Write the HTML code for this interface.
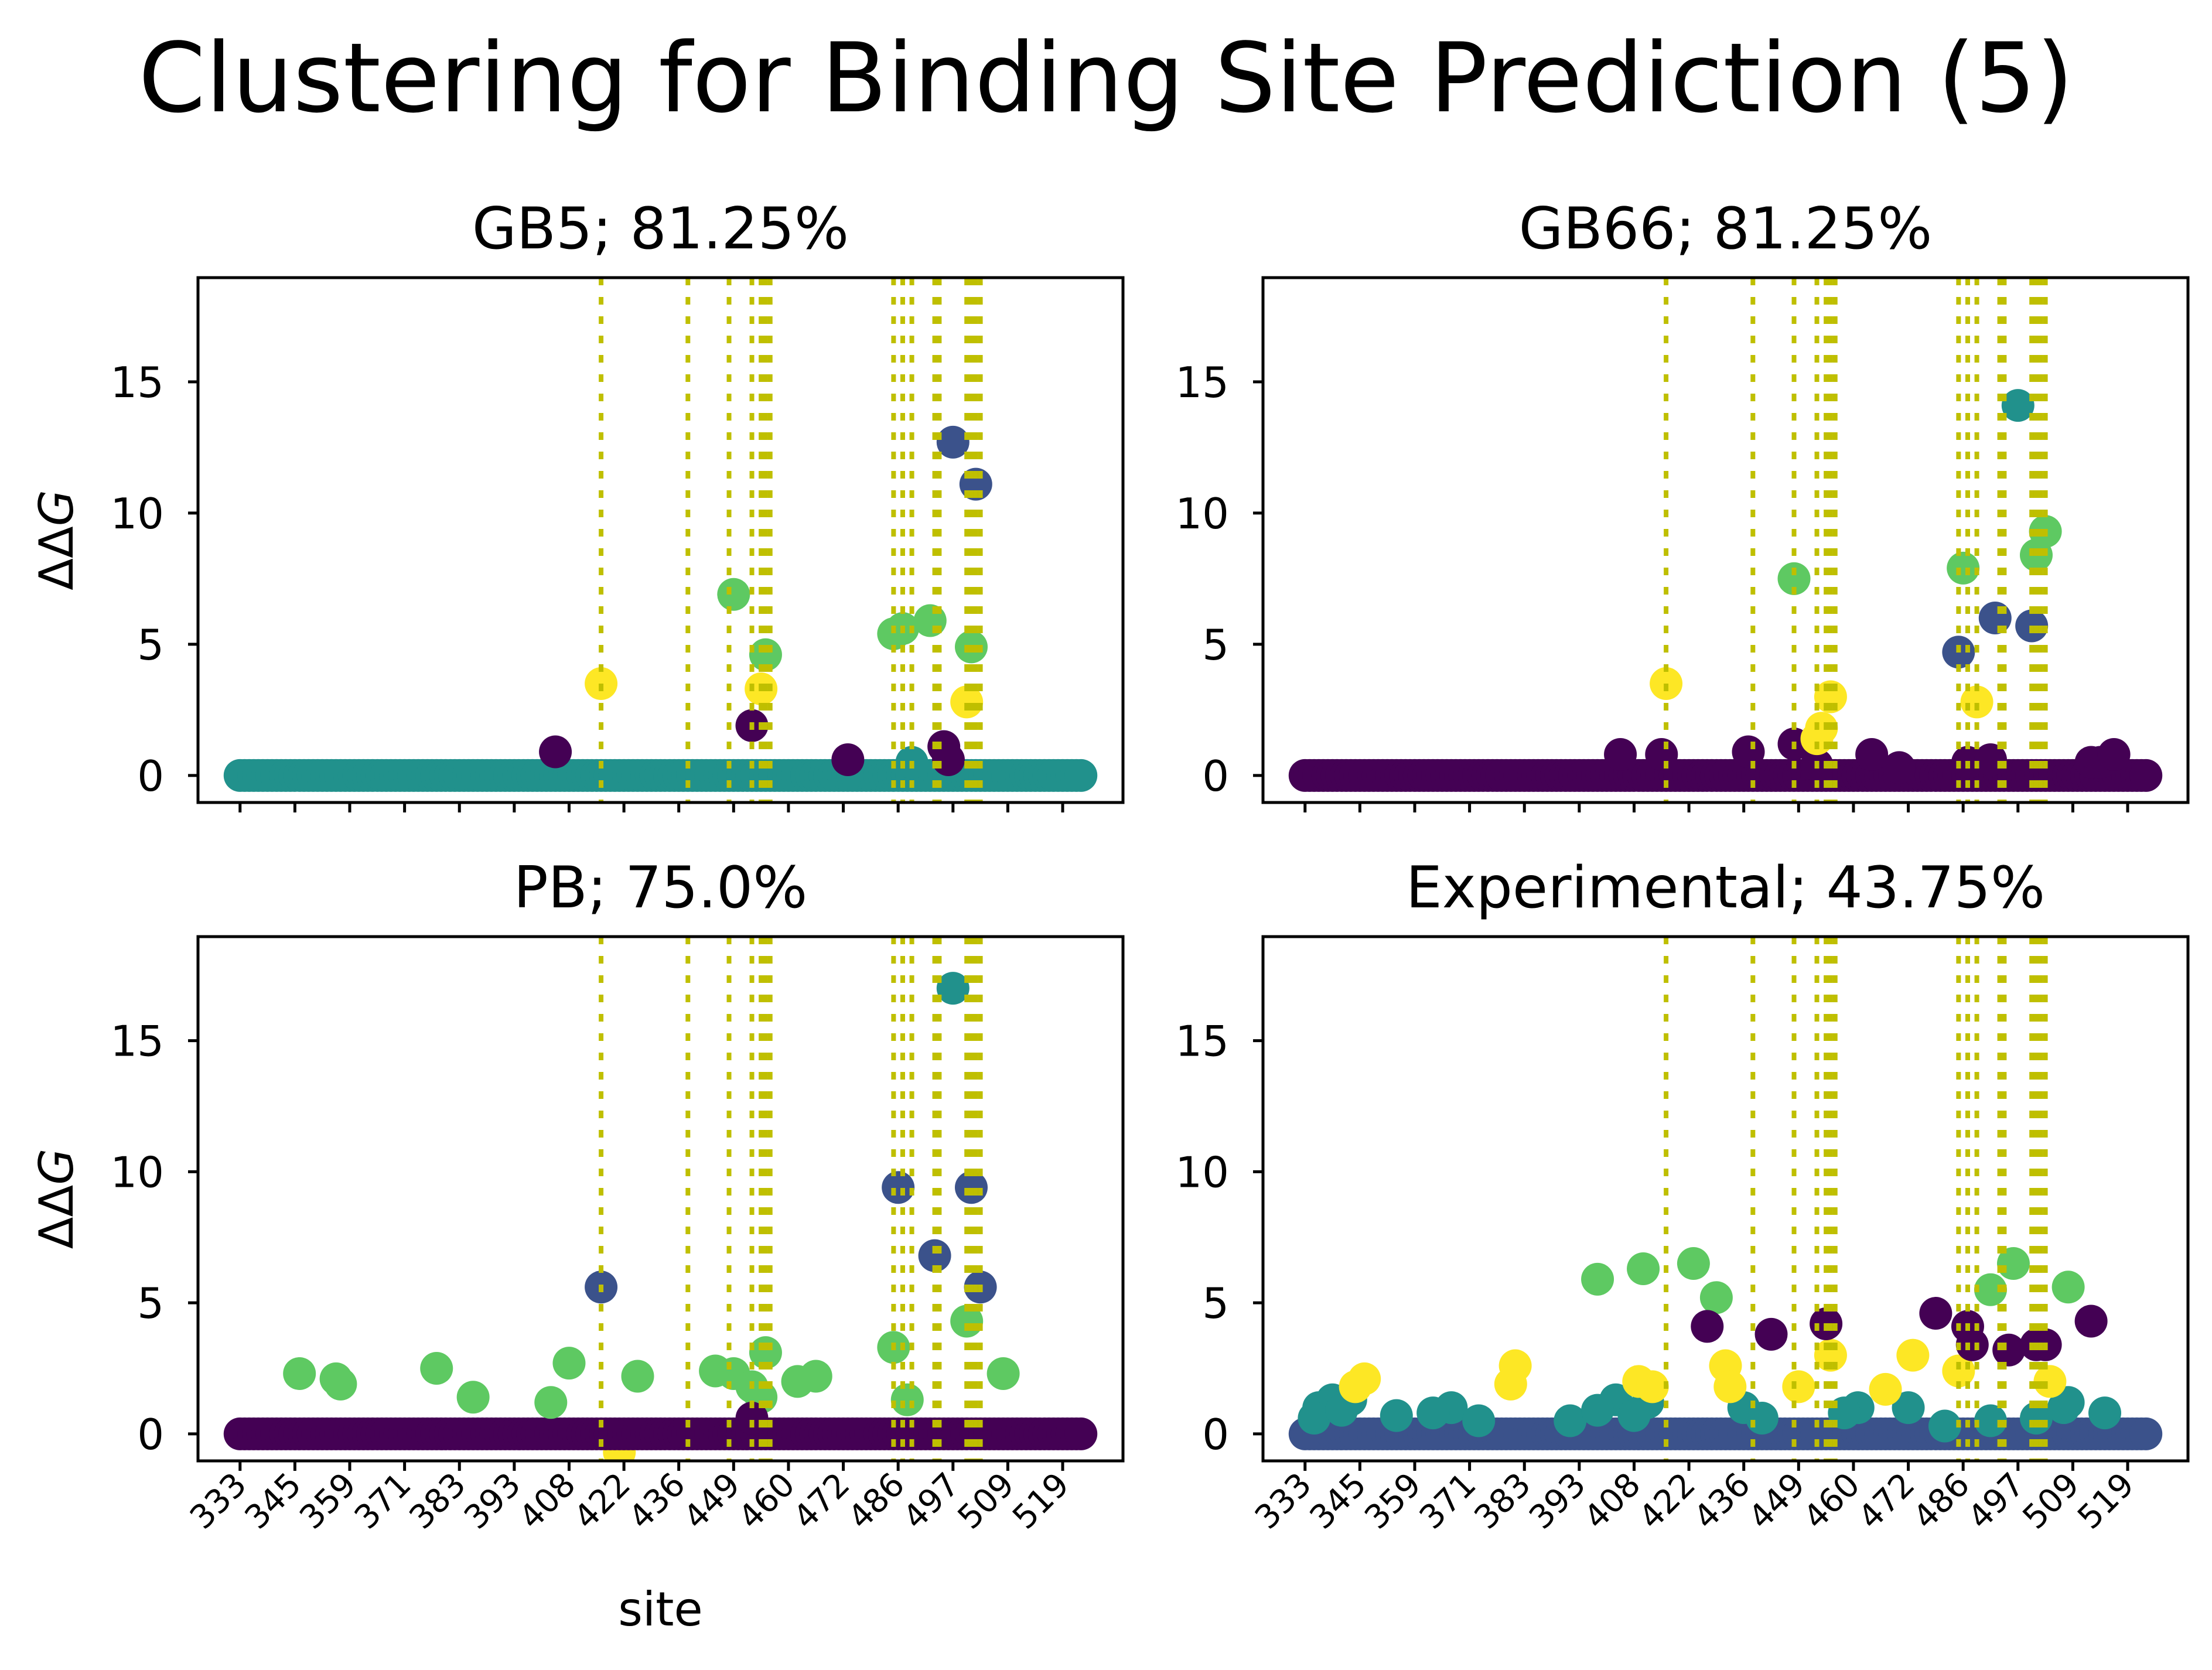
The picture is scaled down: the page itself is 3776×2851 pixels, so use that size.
<!DOCTYPE html>
<html><head><meta charset="utf-8"><style>
html,body{margin:0;padding:0;background:#fff;}
svg{display:block;font-family:"DejaVu Sans","Liberation Sans",sans-serif;}
</style></head><body>
<svg id="fig" width="3776" height="2851" viewBox="0 0 3776 2851" xmlns="http://www.w3.org/2000/svg">
<rect width="3776" height="2851" fill="#fff"/>
<text x="1888" y="190" font-size="164" text-anchor="middle">Clustering for Binding Site Prediction (5)</text>
</svg>
<script>
const N_SITES = 185;
const tickIdx = [0,12,24,36,48,60,72,84,96,108,120,132,144,156,168,180];
const tickLabels = ["333","345","359","371","383","393","408","422","436","449","460","472","486","497","509","519"];
const yTicks = [0,5,10,15];
const bindingSites = [79,98,107,112,114,115,116,143,145,147,152,153,159,160,161,162];
const clusterColors = ["#440154","#3b528b","#21918c","#5ec962","#fde725"];

const gb5Idx = [69,79,108,112,114,115,133,143,145,151,154,155,159,160,156,161,147];
const gb5Val = [0.9,3.5,6.9,1.9,3.3,4.6,0.6,5.4,5.6,5.9,1.1,0.6,2.8,4.9,12.7,11.1,0.5];
const gb5Cls = [0,4,3,0,4,3,0,3,3,3,0,0,4,3,1,1,2];

const gb66Idx = [69,78,97,107,112,124,130,145,150,172,174,177,79,107,112,113,115,143,144,147,151,156,159,160,162];
const gb66Val = [0.8,0.8,0.9,1.2,0.4,0.8,0.3,0.5,0.6,0.5,0.5,0.8,3.5,7.5,1.4,1.8,3.0,4.7,7.9,2.8,6.0,14.1,5.7,8.4,9.3];
const gb66Cls = [0,0,0,0,0,0,0,0,0,0,0,0,4,3,4,4,4,1,3,4,1,2,1,3,3];

const pbIdx = [13,21,22,43,51,68,72,79,87,104,108,112,114,115,122,126,143,144,146,152,156,159,160,162,167,83,112];
const pbVal = [2.3,2.1,1.9,2.5,1.4,1.2,2.7,5.6,2.2,2.4,2.3,1.8,1.4,3.1,2.0,2.2,3.3,9.4,1.3,6.8,17.0,4.3,9.4,5.6,2.3,-0.7,0.6];
const pbCls = [3,3,3,3,3,3,3,1,3,3,3,3,3,3,3,3,3,1,3,1,2,3,1,1,3,4,0];

const expIdx = [3,6,10,32,68,75,96,121,132,167,175,2,8,20,28,38,58,64,72,100,118,140,150,160,166,11,13,45,46,73,76,92,93,108,115,127,133,143,163,64,74,85,90,150,155,167,88,102,114,138,145,146,154,160,162,172];
const expVal = [1.0,1.3,1.3,1.0,1.3,1.2,1.0,1.0,1.0,1.2,0.8,0.6,0.9,0.7,0.8,0.5,0.5,0.9,0.7,0.6,0.8,0.3,0.5,0.6,1.0,1.8,2.1,1.9,2.6,2.0,1.8,2.6,1.8,1.8,3.0,1.7,3.0,2.4,2.0,5.9,6.3,6.5,5.2,5.5,6.5,5.6,4.1,3.8,4.2,4.6,4.1,3.4,3.2,3.4,3.4,4.3];
const expCls = [2,2,2,2,2,2,2,2,2,2,2,2,2,2,2,2,2,2,2,2,2,2,2,2,2,4,4,4,4,4,4,4,4,4,4,4,4,4,4,3,3,3,3,3,3,3,0,0,0,0,0,0,0,0,0,0];

const panels = [
 {name:"gb5", title:"GB5; 81.25%", x0:338, x1:1917, y0:474, y1:1370, base:2, idx:gb5Idx, val:gb5Val, cls:gb5Cls, ylab:true, xlab:false},
 {name:"gb66", title:"GB66; 81.25%", x0:2156, x1:3735, y0:474, y1:1370, base:0, idx:gb66Idx, val:gb66Val, cls:gb66Cls, ylab:false, xlab:false},
 {name:"pb", title:"PB; 75.0%", x0:338, x1:1917, y0:1599, y1:2494, base:0, idx:pbIdx, val:pbVal, cls:pbCls, ylab:true, xlab:true},
 {name:"experimental", title:"Experimental; 43.75%", x0:2156, x1:3735, y0:1599, y1:2494, base:1, idx:expIdx, val:expVal, cls:expCls, ylab:false, xlab:true}
];
const NS = "http://www.w3.org/2000/svg";
const fig = document.getElementById("fig");
function mk(tag, attrs, parent){ const e=document.createElementNS(NS,tag); for(const k in attrs) e.setAttribute(k,attrs[k]); (parent||fig).appendChild(e); return e; }
const YMIN=-1.03, YMAX=18.97, XMIN=-9.2, XMAX=N_SITES-1+9.2;
const R = 28;
panels.forEach(p=>{
  const sx = i => p.x0 + (i-XMIN)/(XMAX-XMIN)*(p.x1-p.x0);
  const sy = v => p.y1 - (v-YMIN)/(YMAX-YMIN)*(p.y1-p.y0);
  const g = mk("g",{});
  
  
  const cp = mk("clipPath",{id:"cp-"+p.name},g);
  mk("rect",{x:p.x0,y:p.y0,width:p.x1-p.x0,height:p.y1-p.y0},cp);
  const plot = mk("g",{"clip-path":"url(#cp-"+p.name+")"},g);
  p.idx.forEach((ix,k)=>{
    if(p.val[k]>=0) return;
    const c = mk("circle",{cx:sx(ix),cy:sy(p.val[k]),r:R,fill:clusterColors[p.cls[k]]},plot);
    
    
  });
  for(let i=0;i<N_SITES;i++){
    const c = mk("circle",{cx:sx(i),cy:sy(0),r:R,fill:clusterColors[p.base]},plot);
    
    
  }
  p.idx.forEach((ix,k)=>{
    if(p.val[k]<0) return;
    const c = mk("circle",{cx:sx(ix),cy:sy(p.val[k]),r:R,fill:clusterColors[p.cls[k]]},plot);
    
    
  });
  bindingSites.forEach(b=>{
    const l = mk("line",{x1:sx(b),x2:sx(b),y1:p.y0,y2:p.y1,stroke:"#bfbf00","stroke-width":8,"stroke-dasharray":"13 20"},plot);
    
    
  });
  const fr = mk("rect",{x:p.x0,y:p.y0,width:p.x1-p.x0,height:p.y1-p.y0,fill:"none",stroke:"#000","stroke-width":5},g);
  
  
  const t = mk("text",{x:(p.x0+p.x1)/2,y:p.y0-50,"font-size":98,"text-anchor":"middle"},g);
  t.textContent = p.title;
  
  
  yTicks.forEach(v=>{
    mk("line",{x1:p.x0-17,x2:p.x0,y1:sy(v),y2:sy(v),stroke:"#000","stroke-width":5},g);
    const tl = mk("text",{x:p.x0-58,y:sy(v)+26,"font-size":72,"text-anchor":"end"},g);
    tl.textContent = String(v);
    
    
  });
  tickIdx.forEach((ti,k)=>{
    mk("line",{x1:sx(ti),x2:sx(ti),y1:p.y1,y2:p.y1+17,stroke:"#000","stroke-width":5},g);
    if(p.xlab){
      const ax = sx(ti)+14, ay = p.y1+44;
      const xt = mk("text",{x:ax,y:ay,"font-size":56,"text-anchor":"end",transform:"rotate(-45 "+ax+" "+ay+")"},g);
      xt.textContent = tickLabels[k];
      
      
    }
  });
  if(p.ylab){
    const cy=(p.y0+p.y1)/2;
    const yl = mk("text",{x:96,y:cy,"font-size":80,"text-anchor":"middle",transform:"rotate(-90 96 "+cy+")",dy:"28"},g);
    yl.innerHTML = 'ΔΔ<tspan font-style="italic">G</tspan>';
    
    
  }
  if(p.xlab && p.ylab){
    const xl = mk("text",{x:(p.x0+p.x1)/2,y:2775,"font-size":80,"text-anchor":"middle"},g);
    xl.textContent = "site";
    
    
  }
});
</script>
</body></html>
